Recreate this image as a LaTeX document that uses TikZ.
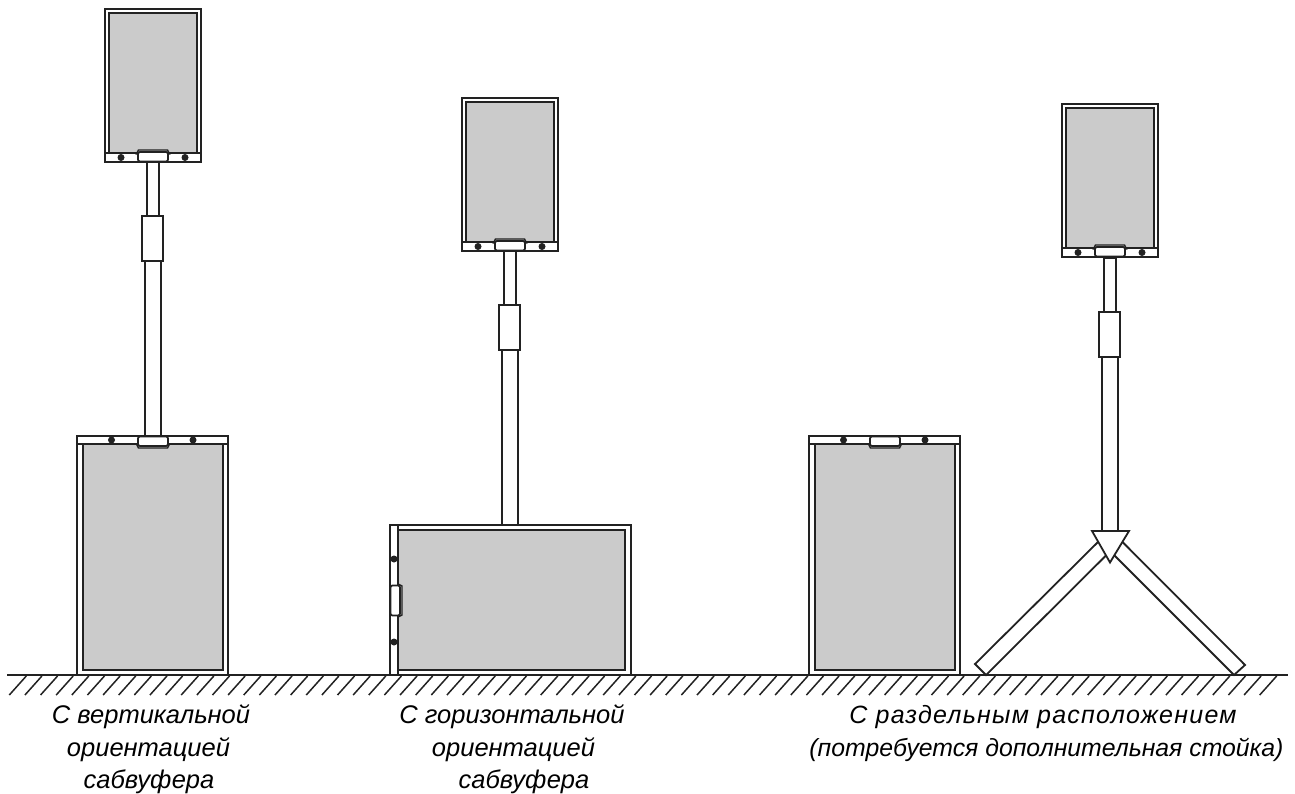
\documentclass[tikz,border=0pt]{standalone}
\usepackage{fontspec}
\setmainfont{Liberation Sans}
\definecolor{ink}{HTML}{222222}
\definecolor{fillgray}{HTML}{CBCBCB}
\tikzset{
  x=1pt,y=-1pt,
  ln/.style={draw=ink,line width=1.8pt,line join=miter},
  thin ln/.style={draw=ink,line width=1.5pt},
  panel/.style={ln,fill=fillgray},
  whitebox/.style={ln,fill=white},
  caption/.style={anchor=base,font=\fontsize{25.5}{25.5}\selectfont\itshape,text=black,inner sep=0pt},
  grip/.pic={
    \draw[panel,line width=1.4pt] (-16.5,8) -- (-14.5,12) -- (14.5,12) -- (16.5,8) -- cycle;
    \draw[whitebox,rounded corners=2pt] (-15,0.5) rectangle (15,10);
  },
  bolt/.style={circle,fill=ink,minimum size=7pt,inner sep=0pt},
}
\newcommand{\tweeter}[3]{% left, top, name
  \draw[whitebox] (#1,#2) rectangle ++(96,153);
  \draw[panel] (#1+4,#2+4) rectangle (#1+92,#2+144);
  \draw[ln] (#1,#2+144) -- ++(96,0);
  \pic[rotate=180] at (#1+48,#2+153) {grip};
  \node[bolt] (#3a) at (#1+16,#2+148.5) {};
  \node[bolt] (#3b) at (#1+80,#2+148.5) {};
}
\newcommand{\pole}[2]{% centre, top
  \draw[whitebox] (#1-6,#2) rectangle ++(12,54);
  \draw[whitebox] (#1-8,#2+99) rectangle ++(16,175);
  \draw[whitebox] (#1-11,#2+54) rectangle ++(21,45);
}
\newcommand{\tallsub}[2]{% left, name
  \draw[whitebox] (#1,436) rectangle (#1+151,675);
  \draw[panel] (#1+6,444) rectangle (#1+146,670);
  \draw[whitebox] (#1,436) rectangle (#1+151,444);
  \pic at (#1+76,436) {grip};
  \node[bolt] (#2a) at (#1+34.5,440) {};
  \node[bolt] (#2b) at (#1+116,440) {};
}
\begin{document}
\begin{tikzpicture}
\useasboundingbox (0,0) rectangle (1295,794);
% ground
\foreach \i in {0,...,80}{
  \draw[thin ln] (26.3+15.63*\i,676) -- ++(-17,19);
}
\coordinate (gl) at (7,675);
\coordinate (gr) at (1288,675);
\draw[ln] (gl) -- (gr);

% poles
\pole{153}{162}
\pole{510}{251}
\pole{1110}{258}

% upper cabinets
\tweeter{105}{9}{ta}
\tweeter{462}{98}{tb}
\tweeter{1062}{104}{tc}

% vertical subwoofers
\tallsub{77}{sa}
\tallsub{809}{sc}

% horizontal subwoofer
\draw[whitebox] (390,525) rectangle (631,675);
\draw[panel] (398,530) rectangle (625,670);
\draw[ln] (390,525) rectangle (398,675);
\pic[rotate=90] at (390,600.5) {grip};
\node[bolt] (sb1) at (394,559) {};
\node[bolt] (sb2) at (394,642) {};

% stand legs
\draw[whitebox] (975,664) -- (986,675) -- (1108,553.5) -- (1100,540) -- cycle;
\draw[whitebox] (1245,665) -- (1234,675) -- (1113,554) -- (1121,540.5) -- cycle;
\draw[whitebox] (1092,531) -- (1129,531) -- (1110,562.5) -- cycle;

% captions
\node[caption] (c1a) at (151,723) {С вертикальной};
\node[caption] (c1b) at (148.5,756) {ориентацией};
\node[caption] (c1c) at (149,788) {сабвуфера};
\node[caption] (c2a) at (512,723) {С горизонтальной};
\node[caption] (c2b) at (513.5,756) {ориентацией};
\node[caption] (c2c) at (524,788) {сабвуфера};
\node[caption,font=\fontsize{25}{25}\selectfont\itshape\addfontfeatures{LetterSpace=5}] (c3a) at (1043,723) {С раздельным расположением};
\node[caption,font=\fontsize{24.8}{24.8}\selectfont\itshape] (c3b) at (1046.5,756) {(потребуется дополнительная стойка)};
\end{tikzpicture}
\end{document}
